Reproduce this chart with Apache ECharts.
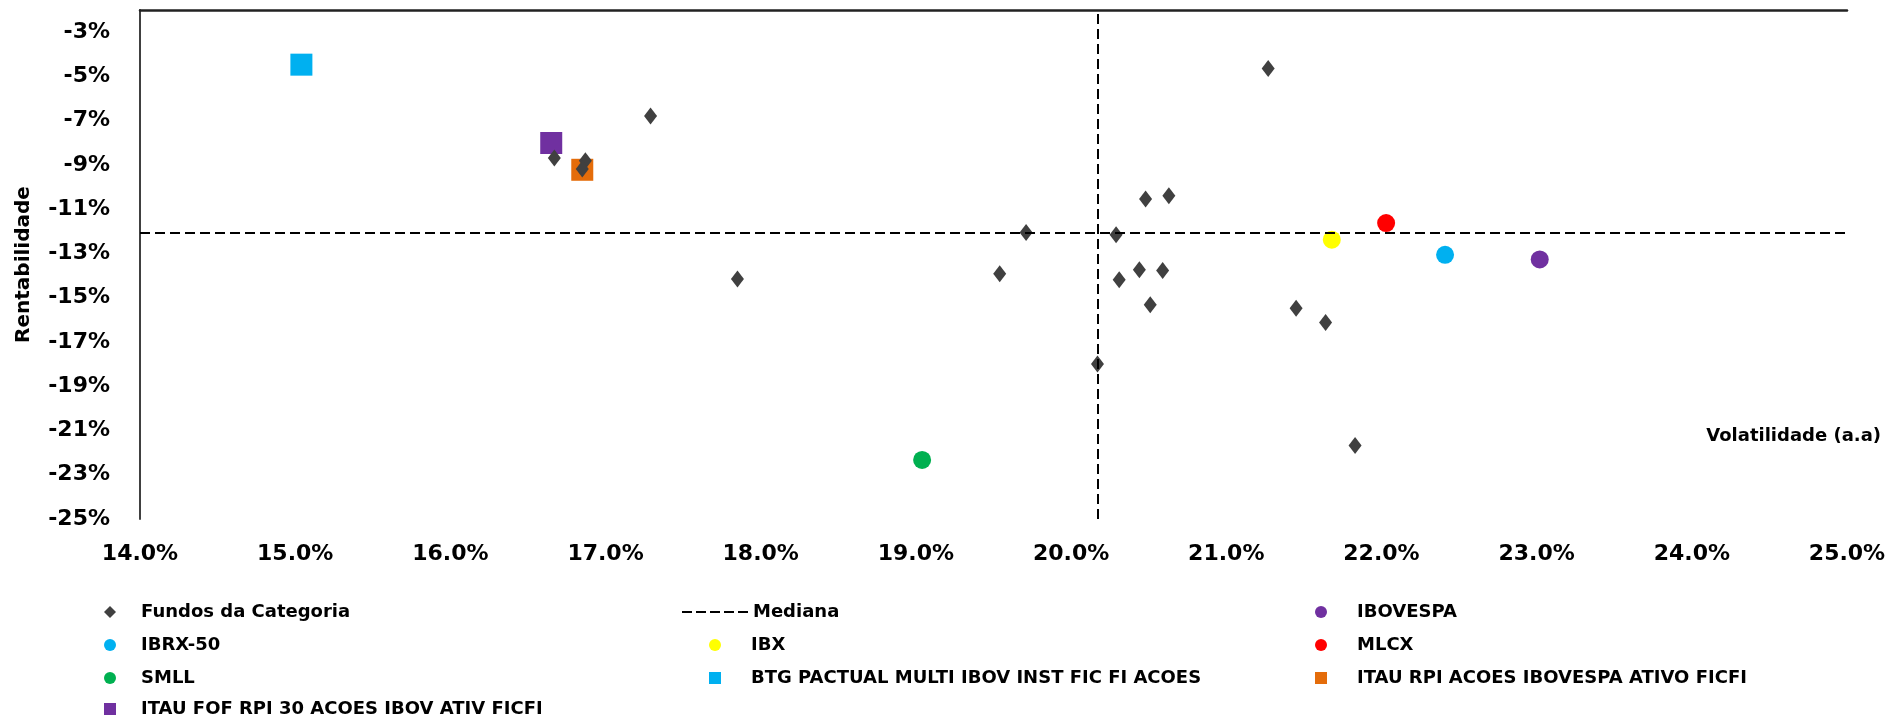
<!DOCTYPE html>
<html>
<head>
<meta charset="utf-8">
<script src="https://cdn.jsdelivr.net/npm/echarts@6/dist/echarts.min.js"></script>
<style>
  html, body { margin: 0; padding: 0; background: #ffffff; }
  #chart { width: 1891px; height: 720px; }
</style>
</head>
<body>
<div id="chart"></div>
<script>
// Volatilidade (% a.a.) x Rentabilidade (%) — fundos da categoria e índices de referência
const fundosCategoria = [
  [17.29, -6.79], [16.67, -8.69], [16.87, -8.81], [16.85, -9.19], [17.85, -14.16],
  [19.54, -13.92], [19.71, -12.05], [20.29, -12.16], [20.48, -10.54], [20.63, -10.39],
  [20.31, -14.19], [20.44, -13.74], [20.59, -13.77], [21.27, -4.64], [20.51, -15.32],
  [21.45, -15.48], [20.17, -18.00], [21.64, -16.12], [21.83, -21.68]
];
const medianaVolatilidade = 20.17;
const medianaRentabilidade = -12.08;

const ibovespa = [23.02, -13.27];
const ibrx50 = [22.41, -13.06];
const ibx = [21.68, -12.38];
const mlcx = [22.03, -11.63];
const smll = [19.04, -22.33];

const btgPactual = [15.04, -4.47];
const itauRpi = [16.85, -9.22];
const itauFof = [16.65, -8.01];

const xTicks = [14, 15, 16, 17, 18, 19, 20, 21, 22, 23, 24, 25];
const yTicks = [-25, -23, -21, -19, -17, -15, -13, -11, -9, -7, -5, -3];

const FONT = '"DejaVu Sans", sans-serif';

const chart = echarts.init(document.getElementById('chart'), null, { renderer: 'canvas' });

function pointSeries(name, point, symbol, size, color) {
  return {
    name: name,
    type: 'scatter',
    symbol: symbol,
    symbolSize: size,
    itemStyle: { color: color, opacity: 1 },
    data: [point],
    z: 3
  };
}

const dashed = { color: '#000000', width: 2, type: [10, 5] };

// dashed-line legend icon (five short dashes)
const dashIcon = 'path://M0,0h10v2h-10z M14,0h10v2h-10z M28,0h10v2h-10z M42,0h10v2h-10z M56,0h10v2h-10z';

// one legend entry per component, laid out as a 3-column grid
const legendRows = [612, 645, 678, 709];
function legendEntry(name, left, row, textPad, icon) {
  const item = { name: name };
  if (icon) item.icon = icon;
  return {
    orient: 'vertical',
    selectedMode: false,
    padding: 0,
    left: left,
    top: legendRows[row] - 9,
    itemWidth: icon ? 66 : 12,
    itemHeight: icon ? 2 : 12,
    textStyle: {
      fontFamily: FONT, fontWeight: 'bold', fontSize: 18, color: '#000000',
      padding: [0, 0, 0, textPad]
    },
    data: [item]
  };
}

chart.setOption({
  animation: false,
  backgroundColor: '#ffffff',
  grid: { left: 140, right: 44, top: 10, bottom: 201, containLabel: false },
  xAxis: [
    {
      type: 'value',
      min: 14, max: 25, interval: 1,
      position: 'bottom',
      axisLine: { show: false },
      axisTick: { show: false },
      splitLine: { show: false },
      axisLabel: {
        margin: 24,
        fontFamily: FONT, fontWeight: 'bold', fontSize: 22, color: '#000000',
        formatter: v => xTicks.includes(Math.round(v)) ? v.toFixed(1) + '%' : ''
      }
    },
    {
      type: 'value',
      min: 14, max: 25, interval: 1,
      position: 'top',
      axisLine: { show: true, lineStyle: { color: '#222222', width: 2.5 } },
      axisTick: { show: false },
      axisLabel: { show: false },
      splitLine: { show: false }
    }
  ],
  yAxis: {
    type: 'value',
    min: -25, max: -2, interval: 1,
    name: 'Rentabilidade',
    nameLocation: 'middle',
    nameGap: 106,
    nameTextStyle: { fontFamily: FONT, fontWeight: 'bold', fontSize: 20, color: '#000000' },
    axisLine: { show: true, onZero: false, lineStyle: { color: '#404040', width: 2 } },
    axisTick: { show: false },
    splitLine: { show: false },
    axisLabel: {
      margin: 30,
      fontFamily: FONT, fontWeight: 'bold', fontSize: 22, color: '#000000',
      formatter: v => yTicks.includes(Math.round(v)) ? Math.round(v) + '%' : ''
    }
  },
  legend: [
    legendEntry('Fundos da Categoria', 104, 0, 20),
    legendEntry('IBRX-50', 104, 1, 20),
    legendEntry('SMLL', 104, 2, 20),
    legendEntry('ITAU FOF RPI 30 ACOES IBOV ATIV FICFI', 104, 3, 20),
    legendEntry('Mediana', 682, 0, 0, dashIcon),
    legendEntry('IBX', 709, 1, 25),
    legendEntry('BTG PACTUAL MULTI IBOV INST FIC FI ACOES', 709, 2, 25),
    legendEntry('IBOVESPA', 1315, 0, 25),
    legendEntry('MLCX', 1315, 1, 25),
    legendEntry('ITAU RPI ACOES IBOVESPA ATIVO FICFI', 1315, 2, 25)
  ],
  graphic: [
    {
      type: 'text',
      right: 10,
      top: 427,
      style: {
        text: 'Volatilidade (a.a)',
        font: 'bold 18px ' + FONT,
        fill: '#000000'
      }
    }
  ],
  series: [
    {
      name: 'Mediana',
      type: 'line',
      data: [],
      symbol: 'none',
      lineStyle: dashed,
      itemStyle: { color: '#000000' },
      z: 1,
      markLine: {
        silent: true,
        symbol: ['none', 'none'],
        label: { show: false },
        lineStyle: dashed,
        data: [{ xAxis: medianaVolatilidade }, { yAxis: medianaRentabilidade }]
      }
    },
    pointSeries('IBOVESPA', ibovespa, 'circle', 18, '#7030A0'),
    pointSeries('IBRX-50', ibrx50, 'circle', 18, '#00B0F0'),
    pointSeries('IBX', ibx, 'circle', 18, '#FFFF00'),
    pointSeries('MLCX', mlcx, 'circle', 18, '#FF0000'),
    pointSeries('SMLL', smll, 'circle', 18, '#00B050'),
    pointSeries('BTG PACTUAL MULTI IBOV INST FIC FI ACOES', btgPactual, 'rect', 22, '#00B0F0'),
    pointSeries('ITAU RPI ACOES IBOVESPA ATIVO FICFI', itauRpi, 'rect', 22, '#E46C0A'),
    pointSeries('ITAU FOF RPI 30 ACOES IBOV ATIV FICFI', itauFof, 'rect', 22, '#7030A0'),
    {
      name: 'Fundos da Categoria',
      type: 'scatter',
      symbol: 'diamond',
      symbolSize: [13, 17],
      itemStyle: { color: '#404040', opacity: 1 },
      data: fundosCategoria,
      z: 4
    }
  ]
});
</script>
</body>
</html>
